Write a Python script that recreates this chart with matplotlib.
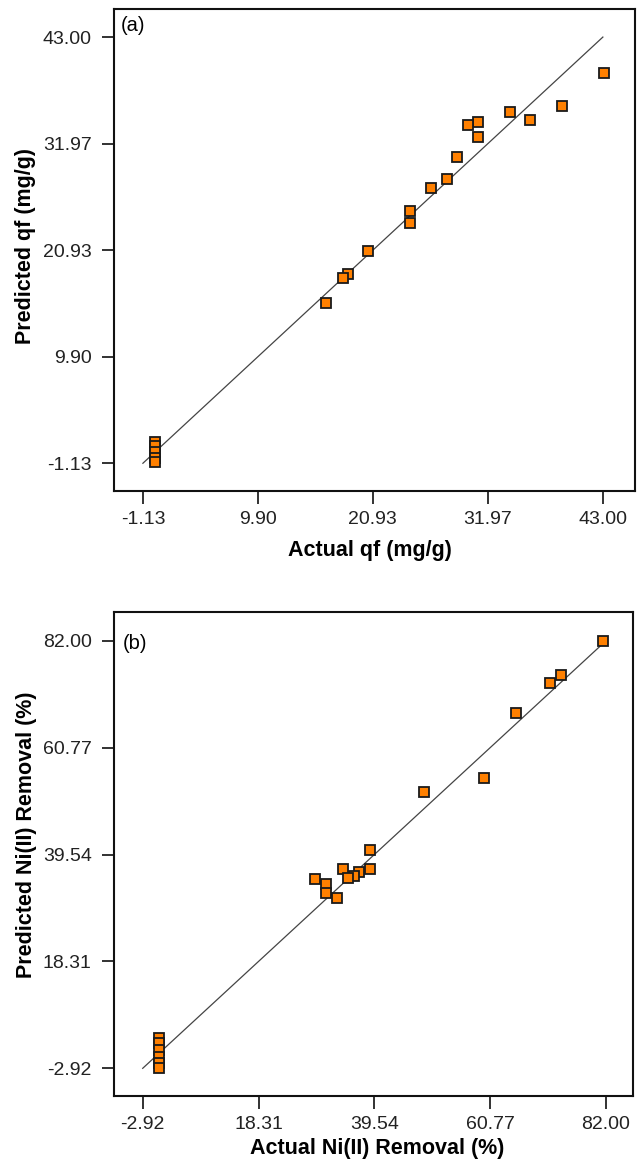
#predicted vs actual plots for qf (a) and ni(ii) removal (b)
import matplotlib
matplotlib.use("Agg")
import matplotlib.pyplot as plt

plt.rcParams["font.family"] = ["Liberation Sans", "DejaVu Sans"]

#panel (a): adsorption capacity qf (mg/g)
qf_actual = [43.07, 39.04, 34.06, 36.04, 31.02, 30.03, 31.02, 28.98, 28.02, 26.51,
             24.47, 24.47, 20.51, 18.50, 18.02, 16.48, 0.0, 0.0, 0.0, 0.0, 0.0]
qf_pred = [39.24, 35.86, 35.27, 34.38, 34.23, 33.89, 32.68, 30.58, 28.30, 27.40,
           24.99, 23.75, 20.88, 18.47, 18.02, 15.43, 1.07, 0.66, 0.04, -0.58, -1.00]
qf_ticks = [-1.13, 9.90, 20.93, 31.97, 43.00]

#panel (b): ni(ii) removal (%)
ni_actual = [81.5, 73.67, 71.65, 65.54, 59.59, 48.59, 38.68, 38.68, 33.80, 36.73,
             35.74, 34.71, 28.66, 30.68, 30.68, 32.69, 0.0, 0.0, 0.0, 0.0, 0.0, 0.0]
ni_pred = [81.86, 75.15, 73.70, 67.59, 54.71, 51.87, 40.38, 36.74, 36.74, 36.09,
           35.35, 34.81, 34.69, 33.76, 31.90, 30.91, 3.11, 2.12, 0.72, -0.67, -1.87, -2.86]
ni_ticks = [-2.92, 18.31, 39.54, 60.77, 82.00]

fig = plt.figure(figsize=(6.4, 11.61), dpi=100)
ax_a = fig.add_axes([0.178, 0.5767, 0.814, 0.4155])
ax_b = fig.add_axes([0.178, 0.0556, 0.8106, 0.4175])


def style_panel(ax, actual, pred, ticks, xlim, ylim, xlabel, ylabel, tag, tag_xy, xlab_pos, ylab_pos):
    ax.plot([ticks[0], ticks[-1]], [ticks[0], ticks[-1]], color="#444444", lw=0.9, zorder=1)
    ax.plot(actual, pred, ls="none", marker="s", ms=7.8, mfc="#ff8000", mec="#1a1a1a",
            mew=1.3, zorder=3)
    ax.set_xlim(*xlim)
    ax.set_ylim(*ylim)
    ax.set_xticks(ticks)
    ax.set_yticks(ticks)
    ax.set_xticklabels([f"{t:.2f}" for t in ticks])
    ax.set_yticklabels([f"{t:.2f}" for t in ticks])
    ax.tick_params(direction="out", length=9, width=1.3, labelsize=14, pad=5, colors="#222222")
    ax.tick_params(axis="y", pad=7)
    for s in ax.spines.values():
        s.set_linewidth(1.5)
        s.set_color("#111111")
    ax.set_xlabel(xlabel, fontsize=15.5, fontweight="bold", va="center")
    ax.set_ylabel(ylabel, fontsize=15.5, fontweight="bold", va="center")
    ax.xaxis.set_label_coords(*xlab_pos)
    ax.yaxis.set_label_coords(*ylab_pos)
    ax.text(tag_xy[0], tag_xy[1], tag, transform=ax.transAxes, fontsize=14.5,
            ha="left", va="top")


style_panel(ax_a, qf_actual, qf_pred, qf_ticks, (-3.91, 46.07), (-4.05, 45.9),
            "Actual qf (mg/g)", "Predicted qf (mg/g)", "(a)", (0.013, 0.985),
            (0.491, -0.122), (-0.169, 0.509))
style_panel(ax_b, ni_actual, ni_pred, ni_ticks, (-8.2, 86.9), (-8.51, 87.77),
            "Actual Ni(II) Removal (%)", "Predicted Ni(II) Removal (%)", "(b)", (0.017, 0.955),
            (0.507, -0.108), (-0.169, 0.539))

plt.savefig("out.png", dpi=100)
plt.close()
